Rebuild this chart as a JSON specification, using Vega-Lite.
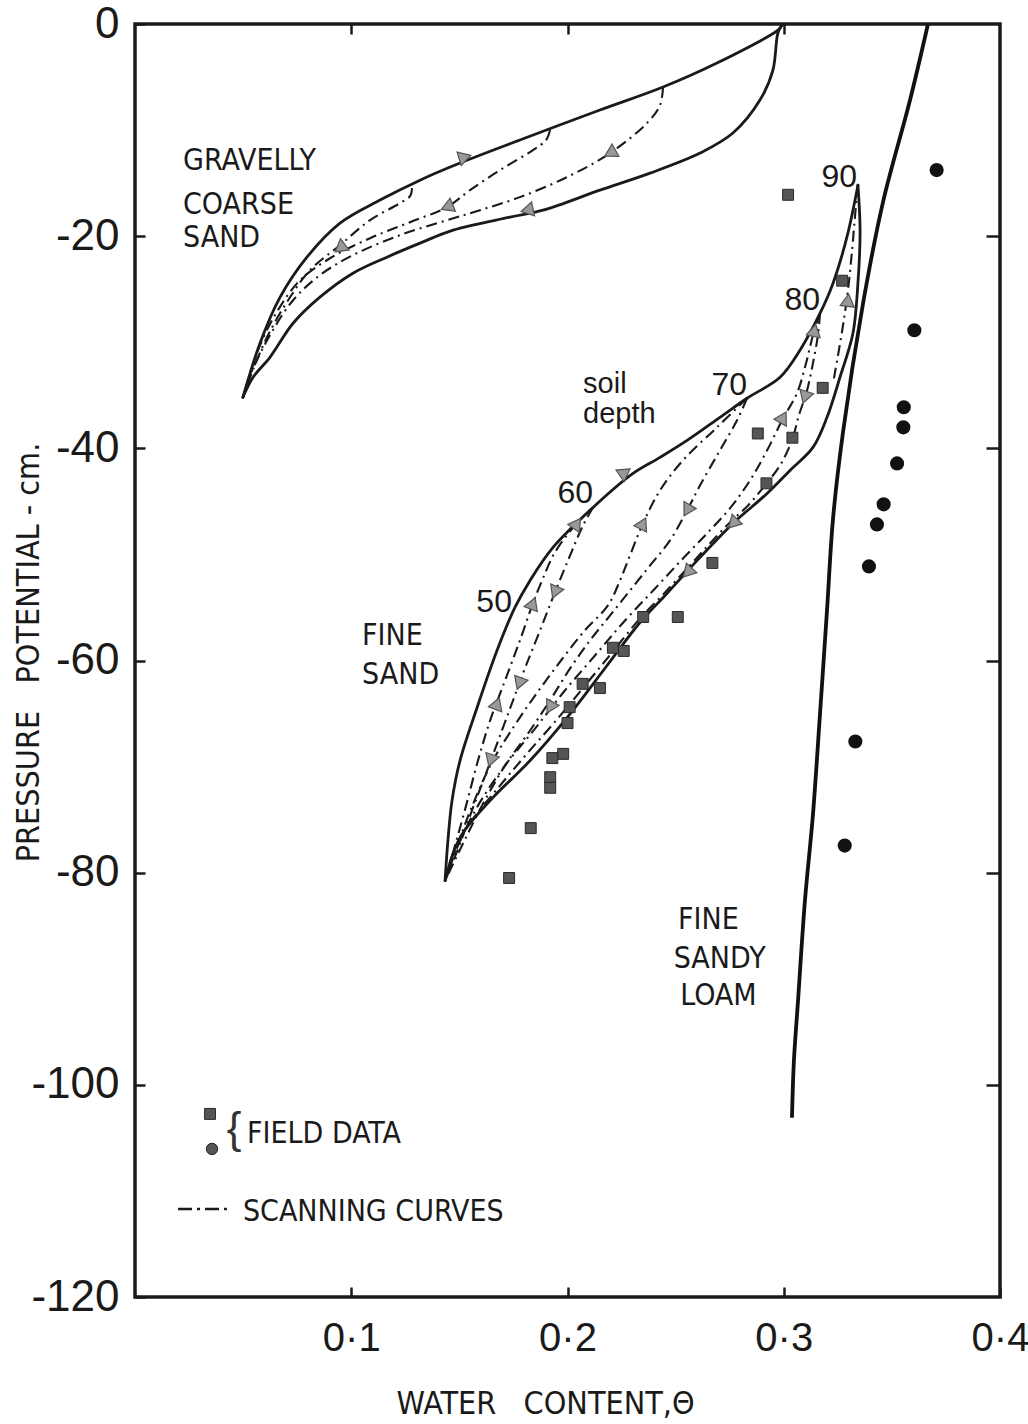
{
  "$schema": "https://vega.github.io/schema/vega-lite/v6.json",
  "width": 865,
  "height": 1273,
  "autosize": {"type": "none"},
  "padding": {"left": 135, "top": 24, "right": 28, "bottom": 127},
  "background": "white",
  "config": {
    "view": {"stroke": "#1a1a1a", "strokeWidth": 3.5},
    "axis": {"grid": false, "domain": false, "labelFlush": false, "labelOverlap": false, "tickColor": "#1a1a1a", "tickWidth": 2.5, "labelColor": "#1a1a1a", "titleColor": "#1a1a1a"}
  },
  "datasets": {
    "curves": [
      {"c":"G_up","k":"boundary","o":1,"x":0.0499,"y":-35.19},{"c":"G_up","k":"boundary","o":2,"x":0.0578,"y":-30.09},{"c":"G_up","k":"boundary","o":3,"x":0.0671,"y":-25.75},{"c":"G_up","k":"boundary","o":4,"x":0.0795,"y":-21.98},{"c":"G_up","k":"boundary","o":5,"x":0.0948,"y":-18.77},{"c":"G_up","k":"boundary","o":6,"x":0.1133,"y":-16.6},{"c":"G_up","k":"boundary","o":7,"x":0.1318,"y":-14.72},{"c":"G_up","k":"boundary","o":8,"x":0.1503,"y":-13.11},{"c":"G_up","k":"boundary","o":9,"x":0.178,"y":-10.94},{"c":"G_up","k":"boundary","o":10,"x":0.215,"y":-8.11},{"c":"G_up","k":"boundary","o":11,"x":0.2442,"y":-5.94},{"c":"G_up","k":"boundary","o":12,"x":0.2691,"y":-3.68},{"c":"G_up","k":"boundary","o":13,"x":0.2973,"y":-0.57},{"c":"G_up","k":"boundary","o":14,"x":0.2992,"y":-0.1},
      {"c":"G_lo","k":"boundary","o":1,"x":0.2992,"y":-0.1},{"c":"G_lo","k":"boundary","o":2,"x":0.2973,"y":-0.85},{"c":"G_lo","k":"boundary","o":3,"x":0.295,"y":-4.34},{"c":"G_lo","k":"boundary","o":4,"x":0.289,"y":-7.17},{"c":"G_lo","k":"boundary","o":5,"x":0.2765,"y":-10.28},{"c":"G_lo","k":"boundary","o":6,"x":0.2613,"y":-12.17},{"c":"G_lo","k":"boundary","o":7,"x":0.2382,"y":-14.06},{"c":"G_lo","k":"boundary","o":8,"x":0.215,"y":-15.66},{"c":"G_lo","k":"boundary","o":9,"x":0.1887,"y":-17.55},{"c":"G_lo","k":"boundary","o":10,"x":0.1734,"y":-18.21},{"c":"G_lo","k":"boundary","o":11,"x":0.1471,"y":-19.43},{"c":"G_lo","k":"boundary","o":12,"x":0.1318,"y":-20.66},{"c":"G_lo","k":"boundary","o":13,"x":0.1165,"y":-21.98},{"c":"G_lo","k":"boundary","o":14,"x":0.1008,"y":-23.49},{"c":"G_lo","k":"boundary","o":15,"x":0.0855,"y":-25.75},{"c":"G_lo","k":"boundary","o":16,"x":0.0731,"y":-28.21},{"c":"G_lo","k":"boundary","o":17,"x":0.0624,"y":-31.42},{"c":"G_lo","k":"boundary","o":18,"x":0.0546,"y":-33.3},{"c":"G_lo","k":"boundary","o":19,"x":0.0499,"y":-35.19},
      {"c":"S1","k":"scanning","o":1,"x":0.2442,"y":-5.94},{"c":"S1","k":"scanning","o":2,"x":0.2428,"y":-7.64},{"c":"S1","k":"scanning","o":3,"x":0.2372,"y":-9.25},{"c":"S1","k":"scanning","o":4,"x":0.2197,"y":-12.17},{"c":"S1","k":"scanning","o":5,"x":0.1998,"y":-14.43},{"c":"S1","k":"scanning","o":6,"x":0.178,"y":-16.32},{"c":"S1","k":"scanning","o":7,"x":0.1595,"y":-17.55},{"c":"S1","k":"scanning","o":8,"x":0.1443,"y":-18.49},{"c":"S1","k":"scanning","o":9,"x":0.1225,"y":-19.91},{"c":"S1","k":"scanning","o":10,"x":0.1008,"y":-21.79},{"c":"S1","k":"scanning","o":11,"x":0.0855,"y":-23.68},{"c":"S1","k":"scanning","o":12,"x":0.0731,"y":-26.04},{"c":"S1","k":"scanning","o":13,"x":0.0624,"y":-29.34},{"c":"S1","k":"scanning","o":14,"x":0.0532,"y":-33.11},{"c":"S1","k":"scanning","o":15,"x":0.0499,"y":-35.19},
      {"c":"S2","k":"scanning","o":1,"x":0.1919,"y":-10.0},{"c":"S2","k":"scanning","o":2,"x":0.1901,"y":-10.94},{"c":"S2","k":"scanning","o":3,"x":0.184,"y":-11.89},{"c":"S2","k":"scanning","o":4,"x":0.1688,"y":-13.77},{"c":"S2","k":"scanning","o":5,"x":0.1549,"y":-15.66},{"c":"S2","k":"scanning","o":6,"x":0.1443,"y":-17.26},{"c":"S2","k":"scanning","o":7,"x":0.1272,"y":-18.68},{"c":"S2","k":"scanning","o":8,"x":0.1087,"y":-20.19},{"c":"S2","k":"scanning","o":9,"x":0.0902,"y":-22.08},{"c":"S2","k":"scanning","o":10,"x":0.0763,"y":-24.15},{"c":"S2","k":"scanning","o":11,"x":0.0661,"y":-26.98},{"c":"S2","k":"scanning","o":12,"x":0.0578,"y":-30.28},{"c":"S2","k":"scanning","o":13,"x":0.0523,"y":-33.58},{"c":"S2","k":"scanning","o":14,"x":0.0499,"y":-35.19},
      {"c":"S3","k":"scanning","o":1,"x":0.1281,"y":-15.47},{"c":"S3","k":"scanning","o":2,"x":0.1272,"y":-16.23},{"c":"S3","k":"scanning","o":3,"x":0.1225,"y":-16.89},{"c":"S3","k":"scanning","o":4,"x":0.1087,"y":-18.49},{"c":"S3","k":"scanning","o":5,"x":0.0948,"y":-20.85},{"c":"S3","k":"scanning","o":6,"x":0.0809,"y":-23.21},{"c":"S3","k":"scanning","o":7,"x":0.0708,"y":-26.04},{"c":"S3","k":"scanning","o":8,"x":0.0615,"y":-29.34},{"c":"S3","k":"scanning","o":9,"x":0.0541,"y":-32.83},{"c":"S3","k":"scanning","o":10,"x":0.0499,"y":-35.19},
      {"c":"FS_up","k":"boundary","o":1,"x":0.1434,"y":-80.75},{"c":"FS_up","k":"boundary","o":2,"x":0.1447,"y":-76.98},{"c":"FS_up","k":"boundary","o":3,"x":0.1466,"y":-73.21},{"c":"FS_up","k":"boundary","o":4,"x":0.1503,"y":-69.43},{"c":"FS_up","k":"boundary","o":5,"x":0.1582,"y":-64.43},{"c":"FS_up","k":"boundary","o":6,"x":0.1674,"y":-59.06},{"c":"FS_up","k":"boundary","o":7,"x":0.1757,"y":-55.0},{"c":"FS_up","k":"boundary","o":8,"x":0.1827,"y":-52.45},{"c":"FS_up","k":"boundary","o":9,"x":0.1933,"y":-49.34},{"c":"FS_up","k":"boundary","o":10,"x":0.2118,"y":-45.57},{"c":"FS_up","k":"boundary","o":11,"x":0.2303,"y":-42.36},{"c":"FS_up","k":"boundary","o":12,"x":0.2428,"y":-40.85},{"c":"FS_up","k":"boundary","o":13,"x":0.2553,"y":-39.25},{"c":"FS_up","k":"boundary","o":14,"x":0.2705,"y":-37.08},{"c":"FS_up","k":"boundary","o":15,"x":0.283,"y":-35.28},{"c":"FS_up","k":"boundary","o":16,"x":0.2983,"y":-33.3},{"c":"FS_up","k":"boundary","o":17,"x":0.3075,"y":-30.75},{"c":"FS_up","k":"boundary","o":18,"x":0.3168,"y":-27.26},{"c":"FS_up","k":"boundary","o":19,"x":0.3228,"y":-24.43},{"c":"FS_up","k":"boundary","o":20,"x":0.3292,"y":-20.09},{"c":"FS_up","k":"boundary","o":21,"x":0.3343,"y":-15.19},
      {"c":"FS_lo","k":"boundary","o":1,"x":0.3343,"y":-15.19},{"c":"FS_lo","k":"boundary","o":2,"x":0.3353,"y":-19.43},{"c":"FS_lo","k":"boundary","o":3,"x":0.3343,"y":-24.43},{"c":"FS_lo","k":"boundary","o":4,"x":0.332,"y":-29.15},{"c":"FS_lo","k":"boundary","o":5,"x":0.326,"y":-33.3},{"c":"FS_lo","k":"boundary","o":6,"x":0.32,"y":-37.08},{"c":"FS_lo","k":"boundary","o":7,"x":0.3135,"y":-39.91},{"c":"FS_lo","k":"boundary","o":8,"x":0.3029,"y":-42.08},{"c":"FS_lo","k":"boundary","o":9,"x":0.2923,"y":-44.25},{"c":"FS_lo","k":"boundary","o":10,"x":0.2765,"y":-47.08},{"c":"FS_lo","k":"boundary","o":11,"x":0.2613,"y":-50.28},{"c":"FS_lo","k":"boundary","o":12,"x":0.246,"y":-53.68},{"c":"FS_lo","k":"boundary","o":13,"x":0.2335,"y":-56.42},{"c":"FS_lo","k":"boundary","o":14,"x":0.2183,"y":-60.47},{"c":"FS_lo","k":"boundary","o":15,"x":0.1998,"y":-65.38},{"c":"FS_lo","k":"boundary","o":16,"x":0.1827,"y":-69.43},{"c":"FS_lo","k":"boundary","o":17,"x":0.1642,"y":-73.21},{"c":"FS_lo","k":"boundary","o":18,"x":0.1503,"y":-76.7},{"c":"FS_lo","k":"boundary","o":19,"x":0.1434,"y":-80.75},
      {"c":"F60a","k":"scanning","o":1,"x":0.2118,"y":-45.57},{"c":"F60a","k":"scanning","o":2,"x":0.2035,"y":-47.26},{"c":"F60a","k":"scanning","o":3,"x":0.1942,"y":-49.81},{"c":"F60a","k":"scanning","o":4,"x":0.1873,"y":-52.92},{"c":"F60a","k":"scanning","o":5,"x":0.184,"y":-54.62},{"c":"F60a","k":"scanning","o":6,"x":0.178,"y":-58.11},{"c":"F60a","k":"scanning","o":7,"x":0.1711,"y":-61.89},{"c":"F60a","k":"scanning","o":8,"x":0.1642,"y":-65.66},{"c":"F60a","k":"scanning","o":9,"x":0.1586,"y":-69.43},{"c":"F60a","k":"scanning","o":10,"x":0.1531,"y":-73.68},{"c":"F60a","k":"scanning","o":11,"x":0.148,"y":-77.45},{"c":"F60a","k":"scanning","o":12,"x":0.1434,"y":-80.75},
      {"c":"F60b","k":"scanning","o":1,"x":0.2118,"y":-45.57},{"c":"F60b","k":"scanning","o":2,"x":0.2072,"y":-47.26},{"c":"F60b","k":"scanning","o":3,"x":0.2012,"y":-50.09},{"c":"F60b","k":"scanning","o":4,"x":0.1942,"y":-53.58},{"c":"F60b","k":"scanning","o":5,"x":0.1873,"y":-57.17},{"c":"F60b","k":"scanning","o":6,"x":0.1803,"y":-60.75},{"c":"F60b","k":"scanning","o":7,"x":0.1748,"y":-63.77},{"c":"F60b","k":"scanning","o":8,"x":0.1688,"y":-67.08},{"c":"F60b","k":"scanning","o":9,"x":0.1628,"y":-70.38},{"c":"F60b","k":"scanning","o":10,"x":0.1558,"y":-74.15},{"c":"F60b","k":"scanning","o":11,"x":0.1494,"y":-77.74},{"c":"F60b","k":"scanning","o":12,"x":0.1434,"y":-80.75},
      {"c":"F70a","k":"scanning","o":1,"x":0.283,"y":-35.28},{"c":"F70a","k":"scanning","o":2,"x":0.2691,"y":-38.02},{"c":"F70a","k":"scanning","o":3,"x":0.2534,"y":-41.13},{"c":"F70a","k":"scanning","o":4,"x":0.2428,"y":-43.96},{"c":"F70a","k":"scanning","o":5,"x":0.2349,"y":-47.08},{"c":"F70a","k":"scanning","o":6,"x":0.2289,"y":-50.09},{"c":"F70a","k":"scanning","o":7,"x":0.2243,"y":-52.45},{"c":"F70a","k":"scanning","o":8,"x":0.2187,"y":-54.81},{"c":"F70a","k":"scanning","o":9,"x":0.208,"y":-57.17},{"c":"F70a","k":"scanning","o":10,"x":0.197,"y":-60.0},{"c":"F70a","k":"scanning","o":11,"x":0.186,"y":-63.02},{"c":"F70a","k":"scanning","o":12,"x":0.1755,"y":-66.13},{"c":"F70a","k":"scanning","o":13,"x":0.165,"y":-69.62},{"c":"F70a","k":"scanning","o":14,"x":0.156,"y":-73.68},{"c":"F70a","k":"scanning","o":15,"x":0.149,"y":-77.45},{"c":"F70a","k":"scanning","o":16,"x":0.1434,"y":-80.75},
      {"c":"F70b","k":"scanning","o":1,"x":0.283,"y":-35.28},{"c":"F70b","k":"scanning","o":2,"x":0.2784,"y":-37.36},{"c":"F70b","k":"scanning","o":3,"x":0.2705,"y":-40.19},{"c":"F70b","k":"scanning","o":4,"x":0.2613,"y":-43.49},{"c":"F70b","k":"scanning","o":5,"x":0.2553,"y":-45.85},{"c":"F70b","k":"scanning","o":6,"x":0.2474,"y":-48.68},{"c":"F70b","k":"scanning","o":7,"x":0.2382,"y":-51.04},{"c":"F70b","k":"scanning","o":8,"x":0.2289,"y":-53.4},{"c":"F70b","k":"scanning","o":9,"x":0.2197,"y":-55.75},{"c":"F70b","k":"scanning","o":10,"x":0.2104,"y":-58.11},{"c":"F70b","k":"scanning","o":11,"x":0.2012,"y":-60.75},{"c":"F70b","k":"scanning","o":12,"x":0.1919,"y":-63.77},{"c":"F70b","k":"scanning","o":13,"x":0.1827,"y":-66.6},{"c":"F70b","k":"scanning","o":14,"x":0.1711,"y":-69.91},{"c":"F70b","k":"scanning","o":15,"x":0.1605,"y":-73.68},{"c":"F70b","k":"scanning","o":16,"x":0.1512,"y":-77.45},{"c":"F70b","k":"scanning","o":17,"x":0.1434,"y":-80.75},
      {"c":"F80a","k":"scanning","o":1,"x":0.3168,"y":-27.26},{"c":"F80a","k":"scanning","o":2,"x":0.3135,"y":-29.34},{"c":"F80a","k":"scanning","o":3,"x":0.3103,"y":-31.98},{"c":"F80a","k":"scanning","o":4,"x":0.3061,"y":-34.81},{"c":"F80a","k":"scanning","o":5,"x":0.2997,"y":-37.17},{"c":"F80a","k":"scanning","o":6,"x":0.2923,"y":-40.19},{"c":"F80a","k":"scanning","o":7,"x":0.2844,"y":-43.02},{"c":"F80a","k":"scanning","o":8,"x":0.2751,"y":-45.66},{"c":"F80a","k":"scanning","o":9,"x":0.265,"y":-47.92},{"c":"F80a","k":"scanning","o":10,"x":0.2534,"y":-50.38},{"c":"F80a","k":"scanning","o":11,"x":0.2405,"y":-53.21},{"c":"F80a","k":"scanning","o":12,"x":0.2266,"y":-56.23},{"c":"F80a","k":"scanning","o":13,"x":0.2127,"y":-59.53},{"c":"F80a","k":"scanning","o":14,"x":0.1988,"y":-62.83},{"c":"F80a","k":"scanning","o":15,"x":0.185,"y":-66.42},{"c":"F80a","k":"scanning","o":16,"x":0.1711,"y":-69.91},{"c":"F80a","k":"scanning","o":17,"x":0.1586,"y":-73.68},{"c":"F80a","k":"scanning","o":18,"x":0.1494,"y":-77.45},{"c":"F80a","k":"scanning","o":19,"x":0.1434,"y":-80.75},
      {"c":"F80b","k":"scanning","o":1,"x":0.3168,"y":-27.26},{"c":"F80b","k":"scanning","o":2,"x":0.3158,"y":-29.34},{"c":"F80b","k":"scanning","o":3,"x":0.3135,"y":-31.98},{"c":"F80b","k":"scanning","o":4,"x":0.3108,"y":-34.53},{"c":"F80b","k":"scanning","o":5,"x":0.307,"y":-36.89},{"c":"F80b","k":"scanning","o":6,"x":0.3038,"y":-39.25},{"c":"F80b","k":"scanning","o":7,"x":0.2983,"y":-41.6},{"c":"F80b","k":"scanning","o":8,"x":0.2913,"y":-43.49},{"c":"F80b","k":"scanning","o":9,"x":0.2835,"y":-45.38},{"c":"F80b","k":"scanning","o":10,"x":0.2751,"y":-46.98},{"c":"F80b","k":"scanning","o":11,"x":0.2659,"y":-48.96},{"c":"F80b","k":"scanning","o":12,"x":0.2566,"y":-51.04},{"c":"F80b","k":"scanning","o":13,"x":0.2451,"y":-53.58},{"c":"F80b","k":"scanning","o":14,"x":0.2335,"y":-56.04},{"c":"F80b","k":"scanning","o":15,"x":0.2206,"y":-59.25},{"c":"F80b","k":"scanning","o":16,"x":0.2081,"y":-62.36},{"c":"F80b","k":"scanning","o":17,"x":0.1947,"y":-65.66},{"c":"F80b","k":"scanning","o":18,"x":0.1817,"y":-68.68},{"c":"F80b","k":"scanning","o":19,"x":0.1688,"y":-71.79},{"c":"F80b","k":"scanning","o":20,"x":0.154,"y":-75.57},{"c":"F80b","k":"scanning","o":21,"x":0.1466,"y":-78.4},{"c":"F80b","k":"scanning","o":22,"x":0.1434,"y":-80.75},
      {"c":"F90","k":"scanning","o":1,"x":0.3343,"y":-15.19},{"c":"F90","k":"scanning","o":2,"x":0.333,"y":-18.02},{"c":"F90","k":"scanning","o":3,"x":0.3316,"y":-21.32},{"c":"F90","k":"scanning","o":4,"x":0.3297,"y":-25.09},{"c":"F90","k":"scanning","o":5,"x":0.3274,"y":-28.4},{"c":"F90","k":"scanning","o":6,"x":0.3251,"y":-31.23},{"c":"F90","k":"scanning","o":7,"x":0.3232,"y":-33.4},
      {"c":"Loam","k":"loam","o":1,"x":0.3667,"y":0},{"c":"Loam","k":"loam","o":2,"x":0.3584,"y":-7.17},{"c":"Loam","k":"loam","o":3,"x":0.3459,"y":-16.79},{"c":"Loam","k":"loam","o":4,"x":0.3366,"y":-26.42},{"c":"Loam","k":"loam","o":5,"x":0.3274,"y":-38.49},{"c":"Loam","k":"loam","o":6,"x":0.3228,"y":-46.6},{"c":"Loam","k":"loam","o":7,"x":0.32,"y":-55.28},{"c":"Loam","k":"loam","o":8,"x":0.3168,"y":-64.91},{"c":"Loam","k":"loam","o":9,"x":0.3135,"y":-74.53},{"c":"Loam","k":"loam","o":10,"x":0.3098,"y":-82.64},{"c":"Loam","k":"loam","o":11,"x":0.3066,"y":-92.08},{"c":"Loam","k":"loam","o":12,"x":0.3047,"y":-97.74},{"c":"Loam","k":"loam","o":13,"x":0.3038,"y":-103.1}
    ],
    "squares": [
      {"x":0.302,"y":-16.1},{"x":0.327,"y":-24.2},{"x":0.318,"y":-34.3},{"x":0.288,"y":-38.6},{"x":0.304,"y":-39.0},{"x":0.292,"y":-43.3},{"x":0.267,"y":-50.8},{"x":0.251,"y":-55.9},{"x":0.235,"y":-55.9},{"x":0.226,"y":-59.1},{"x":0.221,"y":-58.8},{"x":0.215,"y":-62.6},{"x":0.207,"y":-62.2},{"x":0.201,"y":-64.4},{"x":0.2,"y":-65.9},{"x":0.198,"y":-68.8},{"x":0.193,"y":-69.2},{"x":0.192,"y":-71.0},{"x":0.192,"y":-72.0},{"x":0.183,"y":-75.8},{"x":0.173,"y":-80.5}
    ],
    "circles": [
      {"x":0.3707,"y":-13.77},{"x":0.3604,"y":-28.87},{"x":0.3555,"y":-36.13},{"x":0.3553,"y":-38.02},{"x":0.3524,"y":-41.42},{"x":0.3462,"y":-45.28},{"x":0.3431,"y":-47.17},{"x":0.3394,"y":-51.13},{"x":0.3331,"y":-67.64},{"x":0.3282,"y":-77.45}
    ],
    "arrows": [
      {"x":0.1526,"y":-12.55,"dir":73},{"x":0.1813,"y":-17.55,"dir":258},{"x":0.2197,"y":-12.17,"dir":241},{"x":0.1443,"y":-17.26,"dir":248},{"x":0.0948,"y":-21.13,"dir":232},
      {"x":0.2266,"y":-42.26,"dir":55},{"x":0.3297,"y":-26.04,"dir":7},{"x":0.3142,"y":-28.87,"dir":12},{"x":0.2997,"y":-37.08,"dir":29},{"x":0.3098,"y":-35.19,"dir":198},{"x":0.2349,"y":-47.08,"dir":27},{"x":0.2553,"y":-45.85,"dir":210},{"x":0.2765,"y":-47.08,"dir":224},{"x":0.2555,"y":-51.7,"dir":222},{"x":0.1919,"y":-64.43,"dir":208},{"x":0.184,"y":-54.62,"dir":21},{"x":0.1942,"y":-53.58,"dir":202},{"x":0.1675,"y":-64.06,"dir":20},{"x":0.1777,"y":-62.17,"dir":200},{"x":0.1645,"y":-69.43,"dir":198},{"x":0.2044,"y":-47.08,"dir":35}
    ],
    "labels": [
      {"x":0.0222,"y":-13.77,"t":"GRAVELLY","g":"region"},{"x":0.0222,"y":-17.92,"t":"COARSE","g":"region"},{"x":0.0222,"y":-21.04,"t":"SAND","g":"region"},
      {"x":0.105,"y":-58.58,"t":"FINE","g":"region"},{"x":0.105,"y":-62.17,"t":"SAND","g":"region"},
      {"x":0.2511,"y":-85.28,"t":"FINE","g":"region"},{"x":0.2491,"y":-88.96,"t":"SANDY","g":"region"},{"x":0.2521,"y":-92.45,"t":"LOAM","g":"region"},
      {"x":0.0518,"y":-105.47,"t":"FIELD  DATA","g":"region"},{"x":0.0499,"y":-112.83,"t":"SCANNING  CURVES","g":"region"},
      {"x":0.3339,"y":-15.38,"t":"90","g":"depth"},{"x":0.3168,"y":-26.98,"t":"80","g":"depth"},{"x":0.283,"y":-35.0,"t":"70","g":"depth"},{"x":0.2118,"y":-45.19,"t":"60","g":"depth"},{"x":0.1743,"y":-55.47,"t":"50","g":"depth"},
      {"x":0.2072,"y":-34.81,"t":"soil","g":"soil"},{"x":0.2072,"y":-37.64,"t":"depth","g":"soil"}
    ],
    "key_square": [{"x":0.0347,"y":-102.74}],
    "key_circle": [{"x":0.0356,"y":-106.04}],
    "key_brace": [{"x":0.0458,"y":-104.3,"t":"{"}],
    "key_line": [{"x":0.0199,"y":-111.7,"o":1},{"x":0.0425,"y":-111.7,"o":2}]
  },
  "layer": [
    {
      "data": {"name": "curves"},
      "transform": [{"filter": "datum.k == 'boundary'"}],
      "mark": {"type": "line", "interpolate": "catmull-rom", "color": "#1a1a1a", "strokeWidth": 2.8, "strokeCap": "round"},
      "encoding": {
        "x": {"field": "x", "type": "quantitative", "scale": {"domain": [0, 0.4], "nice": false, "zero": false},
          "axis": {"orient": "bottom", "values": [0.1, 0.2, 0.3, 0.4], "labelExpr": "replace(format(datum.value, '.1f'), '.', '·')", "tickSize": -10, "labelPadding": 31, "labelFont": "Liberation Sans", "labelFontSize": 40,
            "title": "WATER\u00a0\u00a0\u00a0CONTENT,Θ", "titleFont": "DejaVu Sans Condensed, Liberation Sans", "titleFontSize": 32, "titleFontWeight": "normal", "titlePadding": 30, "titleX": 410, "titleAlign": "center"}},
        "y": {"field": "y", "type": "quantitative", "scale": {"domain": [-120, 0], "nice": false, "zero": false},
          "axis": {"orient": "left", "values": [0, -20, -40, -60, -80, -100, -120], "labelExpr": "datum.value == 0 ? '0' : '-' + abs(datum.value)", "tickSize": -10, "labelPadding": 26, "labelFont": "Liberation Sans", "labelFontSize": 44,
            "title": "PRESSURE\u00a0\u00a0\u00a0POTENTIAL - cm.", "titleFont": "DejaVu Sans Condensed, Liberation Sans", "titleFontSize": 32, "titleFontWeight": "normal", "titleAngle": -90, "titleX": -107, "titleY": 628, "titleAlign": "center", "titleBaseline": "middle"}},
        "detail": {"field": "c", "type": "nominal"},
        "order": {"field": "o", "type": "quantitative"}
      }
    },
    {
      "data": {"name": "curves"},
      "transform": [{"filter": "datum.k == 'scanning'"}],
      "mark": {"type": "line", "interpolate": "catmull-rom", "color": "#1a1a1a", "strokeWidth": 2.1, "strokeDash": [11, 5, 2, 5]},
      "encoding": {
        "x": {"field": "x", "type": "quantitative", "axis": null},
        "y": {"field": "y", "type": "quantitative", "axis": null},
        "detail": {"field": "c", "type": "nominal"},
        "order": {"field": "o", "type": "quantitative"}
      }
    },
    {
      "data": {"name": "curves"},
      "transform": [{"filter": "datum.k == 'loam'"}],
      "mark": {"type": "line", "interpolate": "catmull-rom", "color": "#111", "strokeWidth": 3.8},
      "encoding": {
        "x": {"field": "x", "type": "quantitative", "axis": null},
        "y": {"field": "y", "type": "quantitative", "axis": null},
        "order": {"field": "o", "type": "quantitative"}
      }
    },
    {
      "data": {"name": "squares"},
      "mark": {"type": "point", "shape": "square", "filled": true, "size": 120, "color": "#555", "stroke": "#2a2a2a", "strokeWidth": 1, "opacity": 1},
      "encoding": {
        "x": {"field": "x", "type": "quantitative", "axis": null},
        "y": {"field": "y", "type": "quantitative", "axis": null}
      }
    },
    {
      "data": {"name": "circles"},
      "mark": {"type": "point", "shape": "circle", "filled": true, "size": 200, "color": "#111", "opacity": 1},
      "encoding": {
        "x": {"field": "x", "type": "quantitative", "axis": {"orient": "top", "values": [0.1, 0.2, 0.3], "labels": false, "tickSize": -10, "title": null}},
        "y": {"field": "y", "type": "quantitative", "axis": {"orient": "right", "values": [-20, -40, -60, -80, -100], "labels": false, "tickSize": -14, "title": null}}
      }
    },
    {
      "data": {"name": "arrows"},
      "mark": {"type": "point", "shape": "triangle-up", "filled": true, "size": 200, "color": "#999", "stroke": "#555", "strokeWidth": 1.2, "opacity": 1},
      "encoding": {
        "x": {"field": "x", "type": "quantitative", "axis": null},
        "y": {"field": "y", "type": "quantitative", "axis": null},
        "angle": {"field": "dir", "type": "quantitative", "scale": null}
      }
    },
    {
      "data": {"name": "labels"},
      "transform": [{"filter": "datum.g == 'region'"}],
      "mark": {"type": "text", "align": "left", "baseline": "alphabetic", "font": "DejaVu Sans Condensed, Liberation Sans", "fontSize": 30, "color": "#1a1a1a"},
      "encoding": {
        "x": {"field": "x", "type": "quantitative", "axis": null},
        "y": {"field": "y", "type": "quantitative", "axis": null},
        "text": {"field": "t"}
      }
    },
    {
      "data": {"name": "labels"},
      "transform": [{"filter": "datum.g == 'depth'"}],
      "mark": {"type": "text", "align": "right", "baseline": "alphabetic", "font": "Liberation Sans", "fontSize": 32, "color": "#1a1a1a"},
      "encoding": {
        "x": {"field": "x", "type": "quantitative", "axis": null},
        "y": {"field": "y", "type": "quantitative", "axis": null},
        "text": {"field": "t"}
      }
    },
    {
      "data": {"name": "labels"},
      "transform": [{"filter": "datum.g == 'soil'"}],
      "mark": {"type": "text", "align": "left", "baseline": "alphabetic", "font": "Liberation Sans", "fontSize": 29, "color": "#1a1a1a"},
      "encoding": {
        "x": {"field": "x", "type": "quantitative", "axis": null},
        "y": {"field": "y", "type": "quantitative", "axis": null},
        "text": {"field": "t"}
      }
    },
    {
      "data": {"name": "key_square"},
      "mark": {"type": "point", "shape": "square", "filled": true, "size": 120, "color": "#555", "stroke": "#2a2a2a", "strokeWidth": 1, "opacity": 1},
      "encoding": {
        "x": {"field": "x", "type": "quantitative", "axis": null},
        "y": {"field": "y", "type": "quantitative", "axis": null}
      }
    },
    {
      "data": {"name": "key_circle"},
      "mark": {"type": "point", "shape": "circle", "filled": true, "size": 130, "color": "#555", "stroke": "#222", "strokeWidth": 1, "opacity": 1},
      "encoding": {
        "x": {"field": "x", "type": "quantitative", "axis": null},
        "y": {"field": "y", "type": "quantitative", "axis": null}
      }
    },
    {
      "data": {"name": "key_brace"},
      "mark": {"type": "text", "align": "center", "baseline": "middle", "font": "Liberation Sans", "fontSize": 44, "color": "#333"},
      "encoding": {
        "x": {"field": "x", "type": "quantitative", "axis": null},
        "y": {"field": "y", "type": "quantitative", "axis": null},
        "text": {"field": "t"}
      }
    },
    {
      "data": {"name": "key_line"},
      "mark": {"type": "line", "color": "#1a1a1a", "strokeWidth": 2.6, "strokeDash": [14, 5, 3, 5]},
      "encoding": {
        "x": {"field": "x", "type": "quantitative", "axis": null},
        "y": {"field": "y", "type": "quantitative", "axis": null},
        "order": {"field": "o", "type": "quantitative"}
      }
    }
  ],
  "resolve": {"axis": {"x": "independent", "y": "independent"}}
}
